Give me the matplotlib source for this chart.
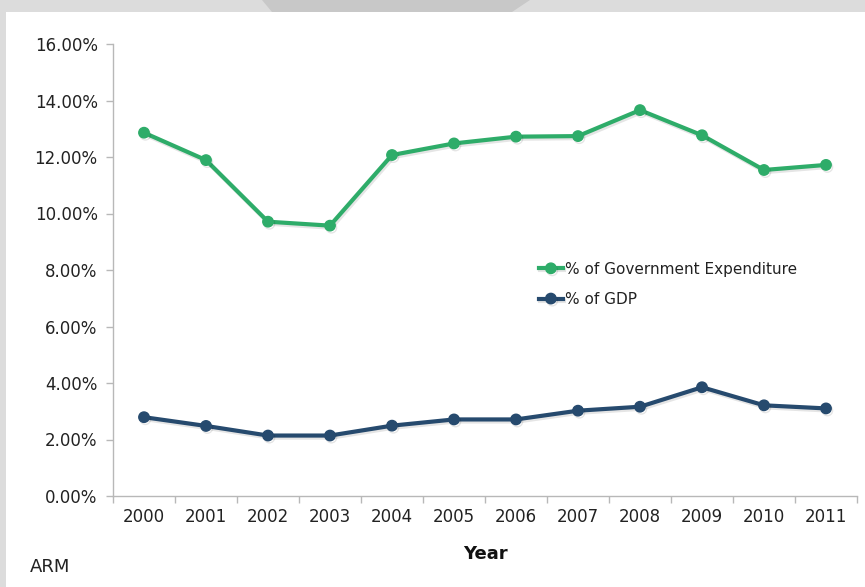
import numpy as np
import matplotlib
matplotlib.use("Agg")
import matplotlib.pyplot as plt
from matplotlib.patches import Rectangle, Polygon
from matplotlib.ticker import FixedLocator, FuncFormatter
import matplotlib.patheffects as pe

years = ["2000", "2001", "2002", "2003", "2004", "2005",
         "2006", "2007", "2008", "2009", "2010", "2011"]
gov_exp = [12.86, 11.89, 9.71, 9.57, 12.07, 12.48, 12.72, 12.74, 13.66, 12.77, 11.54, 11.72]
gdp = [2.79, 2.48, 2.14, 2.14, 2.49, 2.71, 2.71, 3.02, 3.16, 3.85, 3.21, 3.10]
y_ticks = [0, 2, 4, 6, 8, 10, 12, 14, 16]

GREEN = "#2eac69"
NAVY = "#264a6e"
AXIS_GREY = "#b8b8b8"

fig = plt.figure(figsize=(8.65, 5.87), dpi=100)
fig.patch.set_facecolor("#dcdcdc")

# white slide panel with the faint map shape peeking out at the top
W, H = 865, 587
fig.patches.append(Polygon([(262 / W, 1), (530 / W, 1), (512 / W, 1 - 12 / H), (272 / W, 1 - 12 / H)],
                           closed=True, transform=fig.transFigure, facecolor="#c8c8c8",
                           edgecolor="none", zorder=-2))
fig.patches.append(Rectangle((6 / W, 0), 1, 1 - 12 / H, transform=fig.transFigure,
                             facecolor="white", edgecolor="none", zorder=-1))

ax = fig.add_axes([113 / W, 1 - 496 / H, (857 - 113) / W, (496 - 44) / H])
ax.set_facecolor("none")

x = np.arange(len(years))
shadow = [pe.SimpleLineShadow(offset=(1, -1.5), shadow_color="black", alpha=0.1), pe.Normal()]
ax.plot(x, gov_exp, color=GREEN, lw=3, marker="o", ms=7.5, solid_joinstyle="round",
        label="% of Government Expenditure", path_effects=shadow, clip_on=False)
ax.plot(x, gdp, color=NAVY, lw=3, marker="o", ms=7.5, solid_joinstyle="round",
        label="% of GDP", path_effects=shadow, clip_on=False)

ax.set_xlim(-0.5, len(years) - 0.5)
ax.set_ylim(0, 16)

ax.set_xticks(x)
ax.set_xticklabels(years)
ax.xaxis.set_minor_locator(FixedLocator(np.arange(-0.5, len(years), 1)))
ax.tick_params(axis="x", which="major", length=0, pad=9, labelsize=12, labelcolor="#222222")
ax.tick_params(axis="x", which="minor", length=5, color=AXIS_GREY, width=1)

ax.yaxis.set_major_locator(FixedLocator(y_ticks))
ax.yaxis.set_major_formatter(FuncFormatter(lambda v, _: f"{v:.2f}%"))
ax.tick_params(axis="y", length=5, color=AXIS_GREY, width=1, pad=6, labelsize=12,
               labelcolor="#222222")

for side in ("top", "right"):
    ax.spines[side].set_visible(False)
for side in ("left", "bottom"):
    ax.spines[side].set_color(AXIS_GREY)
    ax.spines[side].set_linewidth(1)

ax.set_xlabel("Year", fontsize=13, fontweight="bold", color="#111111", labelpad=13)

leg = ax.legend(loc="upper left", bbox_to_anchor=(531 / W, 1 - 254 / H),
                bbox_transform=fig.transFigure, frameon=False, fontsize=11,
                handlelength=1.6, handletextpad=0.1, borderpad=0, labelspacing=1.0)
for t in leg.get_texts():
    t.set_color("#222222")

fig.text(30 / W, 1 - 567 / H, "ARM", fontsize=13, color="#222222", va="center", ha="left")

fig.savefig("out.png", dpi=100, facecolor=fig.get_facecolor())
